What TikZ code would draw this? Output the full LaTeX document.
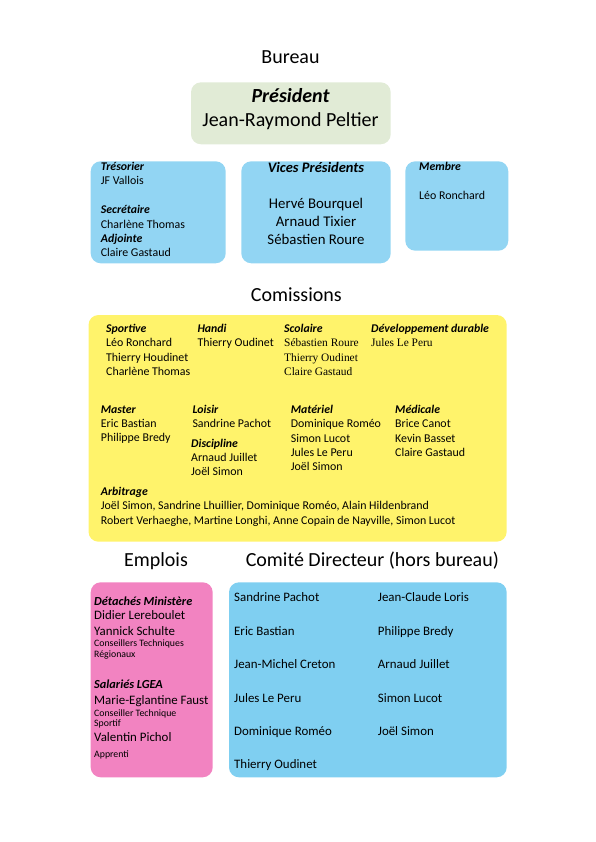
\documentclass[tikz,border=0pt]{standalone}
\usepackage{fontspec}
\setmainfont{Carlito}
\newfontfamily\serifnames{Liberation Serif}
\usetikzlibrary{positioning}
\definecolor{bureaugreen}{HTML}{E1EBD6}
\definecolor{bureaublue}{HTML}{92D5F3}
\definecolor{comyellow}{HTML}{FFF36B}
\definecolor{emppink}{HTML}{F283C1}
\definecolor{cdblue}{HTML}{7FCFF1}

\begin{document}
\begin{tikzpicture}[x=1pt,y=-1pt,
  panel/.style={rounded corners=10pt},
  heading/.style={anchor=base,inner sep=0pt,font=\fontsize{20}{24}\selectfont},
  role/.style={anchor=base west,inner sep=0pt,font=\fontsize{11.8}{14}\selectfont\bfseries\itshape},
  person/.style={anchor=base west,inner sep=0pt,font=\fontsize{11.9}{14}\selectfont},
  oldstyle/.style={person,font=\fontsize{11.4}{14}\selectfont\serifnames},
  vpname/.style={anchor=base,inner sep=0pt,font=\fontsize{14.8}{18}\selectfont},
  emprole/.style={role,font=\fontsize{12.3}{15}\selectfont\bfseries\itshape},
  empname/.style={person,font=\fontsize{12.9}{15}\selectfont},
  empnote/.style={person,font=\fontsize{9.8}{12}\selectfont},
  cdname/.style={person,font=\fontsize{12.9}{15}\selectfont}]
\useasboundingbox (0,0) rectangle (595,842);

% panels
\fill[bureaugreen,panel] (191,82.3) rectangle (390.7,144.3);
\fill[bureaublue,panel] (90.7,161.3) rectangle (225.7,263.3);
\fill[bureaublue,panel] (241.3,161.3) rectangle (390.7,263.3);
\fill[bureaublue,panel] (405.3,161.3) rectangle (508.3,250.7);
\fill[comyellow,panel] (88.5,315) rectangle (506.7,541.7);
\fill[emppink,panel] (90.7,582.3) rectangle (212.7,777.3);
\fill[cdblue,panel] (229,582.3) rectangle (506.7,777.3);

% Bureau
\node[heading] (bureau) at (290.5,64) {Bureau};
\node[heading,font=\fontsize{20}{24}\selectfont\bfseries\itshape] (pres) at (290.5,102.7) {Président};
\node[heading] (presname) at (290.5,126.7) {Jean-Raymond Peltier};

\node[role] (tres) at (100.7,170.7) {Trésorier};
\node[person] (tresname) at (100.7,185) {JF Vallois};
\node[role] (secr) at (100.7,213.3) {Secrétaire};
\node[person] (secrname) at (100.7,228.3) {Charlène Thomas};
\node[role] (adj) at (100.7,242.3) {Adjointe};
\node[person] (adjname) at (100.7,256) {Claire Gastaud};

\node[vpname,font=\fontsize{14.5}{18}\selectfont\bfseries\itshape] (vp) at (316,172.3) {Vices Présidents};
\node[vpname] (vp1) at (316,208.3) {Hervé Bourquel};
\node[vpname] (vp2) at (316,226.7) {Arnaud Tixier};
\node[vpname] (vp3) at (316,244.3) {Sébastien Roure};

\node[role] (membre) at (419,170.7) {Membre};
\node[person] (membrename) at (419,199.7) {Léo Ronchard};

% Comissions
\node[heading] (comissions) at (296.3,301.7) {Comissions};

\node[role] (sportive) at (106,332.7) {Sportive};
\foreach \who [count=\i] in {Léo Ronchard,Thierry Houdinet,Charlène Thomas}
  \node[person] (sportive\i) at (106,332.5+14.4*\i) {\who};
\node[role] (handi) at (197.3,332.7) {Handi};
\node[person] (handi1) at (197.3,346.7) {Thierry Oudinet};
\node[role] (scolaire) at (284,332.7) {Scolaire};
\foreach \who [count=\i] in {Sébastien Roure,Thierry Oudinet,Claire Gastaud}
  \node[oldstyle] (scolaire\i) at (284,332.5+14.4*\i) {\who};
\node[role] (durable) at (371,332.7) {Développement durable};
\node[oldstyle] (durable1) at (371,346.7) {Jules Le Peru};

\node[role] (master) at (100.7,413.3) {Master};
\node[person] (master1) at (100.7,427.7) {Eric Bastian};
\node[person] (master2) at (100.7,441.7) {Philippe Bredy};
\node[role] (loisir) at (192.3,413.3) {Loisir};
\node[person] (loisir1) at (192.3,427.7) {Sandrine Pachot};
\node[role] (discipline) at (191,447.7) {Discipline};
\node[person] (discipline1) at (191,461.7) {Arnaud Juillet};
\node[person] (discipline2) at (191,475.7) {Joël Simon};
\node[role] (materiel) at (290.7,413.3) {Matériel};
\foreach \who [count=\i] in {Dominique Roméo,Simon Lucot,Jules Le Peru,Joël Simon}
  \node[person] (materiel\i) at (290.7,413.3+14.4*\i) {\who};
\node[role] (medicale) at (395,413.3) {Médicale};
\foreach \who [count=\i] in {Brice Canot,Kevin Basset,Claire Gastaud}
  \node[person] (medicale\i) at (395,413.3+14.4*\i) {\who};

\node[role] (arbitrage) at (100.7,495.7) {Arbitrage};
\node[person] (arbitrage1) at (100.7,509) {Joël Simon, Sandrine Lhuillier, Dominique Roméo, Alain Hildenbrand};
\node[person] (arbitrage2) at (100.7,524) {Robert Verhaeghe, Martine Longhi, Anne Copain de Nayville, Simon Lucot};

% Emplois
\node[heading] (emplois) at (156,566.7) {Emplois};
\node[emprole] (detaches) at (94,605) {Détachés Ministère};
\node[empname] (lereboulet) at (94,619) {Didier Lereboulet};
\node[empname] (schulte) at (94,635.7) {Yannick Schulte};
\node[empnote] (ctr1) at (94,646.7) {Conseillers Techniques};
\node[empnote] (ctr2) at (94,657.3) {Régionaux};
\node[emprole] (salaries) at (94,688.3) {Salariés LGEA};
\node[empname] (faust) at (94,704.3) {Marie-Eglantine Faust};
\node[empnote] (cts1) at (94,716) {Conseiller Technique};
\node[empnote] (cts2) at (94,726.7) {Sportif};
\node[empname] (pichol) at (94,741.7) {Valentin Pichol};
\node[empnote] (apprenti) at (94,757.7) {Apprenti};

% Comite Directeur
\node[heading] (comite) at (372.3,566.7) {Comité Directeur (hors bureau)};
\foreach \who [count=\i] in {Sandrine Pachot,Eric Bastian,Jean-Michel Creton,Jules Le Peru,Dominique Roméo,Thierry Oudinet}
  \node[cdname] (cdleft\i) at (234,568.2+33.46*\i) {\who};
\foreach \who [count=\i] in {Jean-Claude Loris,Philippe Bredy,Arnaud Juillet,Simon Lucot,Joël Simon}
  \node[cdname] (cdright\i) at (377.7,568.2+33.46*\i) {\who};
\end{tikzpicture}
\end{document}
